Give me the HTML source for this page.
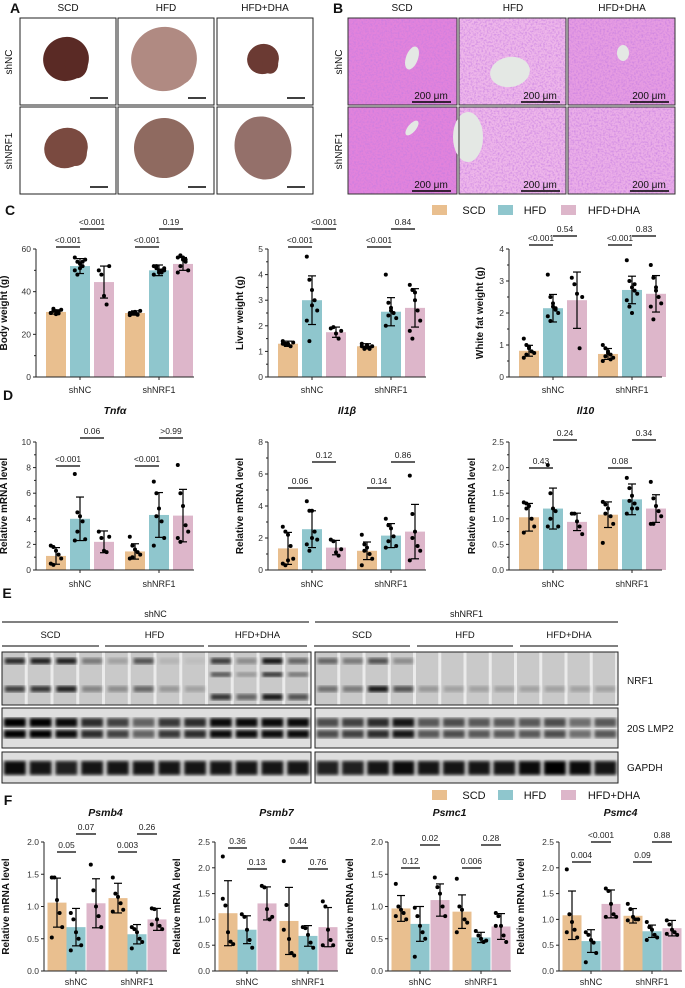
<!DOCTYPE html>
<html><head><meta charset="utf-8"><style>
html,body{margin:0;padding:0;background:#fff;}
svg{display:block;font-family:"Liberation Sans",Arial,sans-serif;}
</style></head><body>
<svg id="fig" width="685" height="988" viewBox="0 0 685 988" xmlns="http://www.w3.org/2000/svg">
<defs>
<filter id="he" x="0" y="0" width="1" height="1"><feTurbulence type="fractalNoise" baseFrequency="0.55" numOctaves="2" seed="3"/><feColorMatrix type="matrix" values="0 0 0 0 0.55  0 0 0 0 0.2  0 0 0 0 0.75  0 0 0 -2.2 1.3"/></filter>
<filter id="bl"><feGaussianBlur stdDeviation="1.6"/></filter>
</defs>
</svg>
<script>
// ---------- DATA ----------
const groups = ["shNC","shNRF1"];
const diets = ["SCD","HFD","HFD+DHA"];
const bwMean=[30.5,52,44.5,30,50,53], bwSd=[1,3.5,7.5,1,2.5,3];
const bwPts=[[30,31,29.5,30.5,31.5,30,32,30.8,29.8],[56,54,53,52,55,50,48,51,54],[50,48,38,34,52],[29,30,30.5,29.5,31,30,29.8,30.2,29.2],[52,51,50,49,50,48,52,49,50,51],[56,57,55,54,50,49,52,56,55]];
const bwP=["<0.001","<0.001","<0.001","0.19"];
const lwMean=[1.3,3.0,1.75,1.2,2.55,2.7], lwSd=[0.1,0.95,0.2,0.1,0.55,0.75];
const lwPts=[[1.4,1.3,1.25,1.2,1.35,1.3,1.25,1.3],[4.7,3.8,3.4,3.0,2.6,2.2,1.4,2.8],[1.9,1.95,1.7,1.5,1.8],[1.2,1.15,1.25,1.1,1.2,1.3,1.1,1.2,1.15],[4.0,2.9,2.7,2.5,2.3,2.0,2.4,2.6],[3.6,3.4,3.0,2.6,2.2,1.8,1.5,3.3]];
const lwP=["<0.001","<0.001","<0.001","0.84"];
const wfMean=[0.82,2.15,2.4,0.72,2.72,2.6], wfSd=[0.17,0.43,0.88,0.17,0.43,0.57];
const wfPts=[[1.2,1.0,0.95,0.8,0.75,0.6,0.7,0.9],[3.2,2.5,2.3,2.1,2.0,1.9,1.75,2.2,2.15],[3.1,2.9,2.6,0.9,2.5],[1.0,0.9,0.8,0.7,0.6,0.5,0.65,0.75,0.55],[3.65,3.0,2.8,2.7,2.6,2.4,2.2,2.0,2.9],[3.5,3.1,2.8,2.5,2.3,2.2,1.8,2.7]];
const wfP=["<0.001","0.54","<0.001","0.83"];
const tnMean=[1.1,4.0,2.2,1.45,4.3,4.25], tnSd=[0.65,1.7,0.85,0.6,1.75,2.05];
const tnPts=[[1.9,1.8,1.5,1.2,0.9,0.5,0.4],[7.5,4.5,4.2,3.8,2.4,2.3,3.0],[3.0,2.5,1.5,1.4,2.6],[2.6,1.9,1.6,1.4,1.2,0.9,1.0],[6.9,6.0,4.8,3.8,2.5,1.9,4.2],[8.2,6.0,5.0,3.5,3.0,2.5,2.2]];
const tnP=["<0.001","0.06","<0.001",">0.99"];
const ilMean=[1.35,2.55,1.4,1.2,2.15,2.4], ilSd=[1.0,1.15,0.45,0.55,0.75,1.7];
const ilPts=[[2.7,2.4,2.2,1.5,0.7,0.4,0.3,0.6],[4.3,3.7,3.7,2.4,1.9,1.6,1.2,2.0],[1.9,1.8,1.1,0.9,1.3],[2.2,1.6,1.4,1.0,0.7,0.3,1.2],[3.2,2.8,2.6,2.1,1.5,1.4,1.8],[5.9,3.5,2.4,1.5,1.2,0.6,2.0]];
const ilP=["0.06","0.12","0.14","0.86"];
const i10Mean=[1.03,1.2,0.94,1.08,1.38,1.2], i10Sd=[0.27,0.4,0.17,0.25,0.3,0.27];
const i10Pts=[[1.32,1.3,1.25,1.0,0.85,0.73,1.2],[2.05,1.5,1.2,1.15,0.85,0.85,1.0],[1.1,1.1,0.95,0.85,0.7],[1.33,1.28,1.2,1.05,0.9,0.53,1.1],[1.8,1.6,1.45,1.3,1.2,1.1,1.35,1.2],[1.72,1.4,1.25,1.15,1.05,0.9,0.9]];
const i10P=["0.43","0.24","0.08","0.34"];
const b4Mean=[1.06,0.68,1.05,1.13,0.57,0.80], b4Sd=[0.38,0.29,0.38,0.23,0.15,0.17];
const b4Pts=[[1.45,1.45,1.1,0.9,0.68,0.52],[0.9,0.8,0.6,0.5,0.4,0.32],[1.65,1.25,1.0,0.85,0.68],[1.45,1.2,1.15,1.05,0.95,0.92],[0.68,0.65,0.6,0.5,0.45,0.35],[0.97,0.96,0.8,0.7,0.65,0.72]];
const b4P=["0.05","0.07","0.003","0.26"];
const b7Mean=[1.12,0.80,1.31,0.97,0.68,0.85], b7Sd=[0.63,0.27,0.32,0.65,0.2,0.38];
const b7Pts=[[2.22,1.27,0.75,0.57,0.52,1.4],[1.1,1.05,0.8,0.6,0.45],[1.65,1.62,1.2,1.0,1.05],[2.13,1.28,0.62,0.35,0.3,0.8],[0.85,0.83,0.7,0.55,0.45],[1.35,1.25,0.8,0.6,0.5,0.5]];
const b7P=["0.36","0.13","0.44","0.76"];
const c1Mean=[0.97,0.73,1.10,0.92,0.52,0.69], c1Sd=[0.2,0.27,0.25,0.26,0.08,0.2];
const c1Pts=[[1.35,1.0,0.95,0.9,0.8,0.85],[0.98,0.85,0.7,0.6,0.5,0.22],[1.45,1.3,1.2,1.0,0.85],[1.43,1.0,0.95,0.8,0.75,0.6],[0.62,0.55,0.5,0.45,0.47],[0.9,0.85,0.7,0.55,0.45,0.7]];
const c1P=["0.12","0.02","0.006","0.28"];
const c4Mean=[1.08,0.58,1.30,1.07,0.77,0.83], c4Sd=[0.47,0.22,0.27,0.14,0.12,0.15];
const c4Pts=[[1.97,1.1,0.95,0.8,0.65,0.75],[0.75,0.7,0.6,0.55,0.35,0.17],[1.6,1.55,1.3,1.1,1.05,1.05],[1.3,1.2,1.05,1.0,1.0,0.98],[0.95,0.85,0.8,0.7,0.65,0.6],[0.98,0.9,0.8,0.75,0.7,0.72]];
const c4P=["0.004","<0.001","0.09","0.88"];

// ---------- helpers ----------
const NS="http://www.w3.org/2000/svg";
const svg=document.getElementById('fig');
const COLORS=["#e9bf8f","#8fc6cd","#ddb6ca"];
function mk(tag,attrs,parent){const e=document.createElementNS(NS,tag);for(const k in attrs)e.setAttribute(k,attrs[k]);(parent||svg).appendChild(e);return e;}
function txt(s,x,y,size,opts,parent){const e=mk('text',Object.assign({x:x,y:y,'font-size':size,'text-anchor':'middle',fill:'#111'},opts||{}),parent);e.textContent=s;return e;}

// panel letters
[["A",15,13],["B",338,13],["C",10,215],["D",8,400],["E",7,598],["F",8,805]].forEach(l=>{
 const t=txt(l[0],l[1],l[2],14,{'font-weight':'bold'});
 
 
});

// ---------- Panel A: liver photos ----------
const aX=[20,118,217], aY=[18,107];
const livCol=[["#5a2a25","#b08a82","#6b3a33"],["#7a4a40","#8f6a60","#94706a"]];
const livRx=[[23,33,16],[22,30,28]], livRy=[[22,32,15],[20,30,32]];
diets.forEach((d,i)=>{const t=txt(d,aX[i]+48,11,10);});
groups.forEach((g,r)=>{const t=txt(g,0,0,10,{transform:`translate(12,${aY[r]+44}) rotate(-90)`});});
for(let r=0;r<2;r++)for(let c=0;c<3;c++){
 const g=mk('g',{});
 mk('rect',{x:aX[c],y:aY[r],width:96,height:87,fill:'#fff',stroke:'#222','stroke-width':1},g);
 const cx=aX[c]+46, cy=aY[r]+41;
 mk('ellipse',{cx:cx,cy:cy,rx:livRx[r][c],ry:livRy[r][c],fill:livCol[r][c],transform:`rotate(-20 ${cx} ${cy})`},g);
 mk('ellipse',{cx:cx+livRx[r][c]*0.45,cy:cy+5,rx:livRx[r][c]*0.5,ry:livRy[r][c]*0.65,fill:livCol[r][c]},g);
 mk('line',{x1:aX[c]+70,x2:aX[c]+88,y1:aY[r]+80,y2:aY[r]+80,stroke:'#000','stroke-width':1.5},g);
}
// ---------- Panel B: histology ----------
const bX=[348,459,568], bW=[109,107,107];
diets.forEach((d,i)=>{const t=txt(d,bX[i]+54,11,10);});
groups.forEach((g,r)=>{const t=txt(g,0,0,10,{transform:`translate(342,${aY[r]+44}) rotate(-90)`});});
const heBase=[["#e283dc","#eeb6ea","#e69ce2"],["#e283dc","#eeb6ea","#ebaee8"]];
const vessel=[[[64,40,6,12,20],[51,54,20,15,-10],[55,35,6,8,0]],[[64,21,4,9,40],[9,30,15,25,0],[0,0,0,0,0]]];
for(let r=0;r<2;r++)for(let c=0;c<3;c++){
 const g=mk('g',{});
 mk('rect',{x:bX[c],y:aY[r],width:bW[c],height:87,fill:heBase[r][c]},g);
 mk('rect',{x:bX[c],y:aY[r],width:bW[c],height:87,filter:'url(#he)',opacity:0.75},g);
 const v=vessel[r][c]; if(v[2]>0){const vx=bX[c]+v[0],vy=aY[r]+v[1];mk('ellipse',{cx:vx,cy:vy,rx:v[2],ry:v[3],fill:'#e4e8e4',transform:`rotate(${v[4]} ${vx} ${vy})`},g);}
 mk('rect',{x:bX[c],y:aY[r],width:bW[c],height:87,fill:'none',stroke:'#333','stroke-width':1},g);
 txt("200 μm",bX[c]+bW[c]-26,aY[r]+81,10,{},g);
 mk('line',{x1:bX[c]+bW[c]-45,x2:bX[c]+bW[c]-6,y1:aY[r]+84,y2:aY[r]+84,stroke:'#000','stroke-width':1.5},g);
}

// ---------- legends ----------
function legend(y,name){
 const g=mk('g',{});
 const sx=[432,498,561], tx=[474,535,614];
 diets.forEach((d,i)=>{
  const it=mk('g',{},g);
  mk('rect',{x:sx[i],y:y-5,width:15,height:10,fill:COLORS[i]},it);
  txt(d,tx[i],y+4,11,{},it);
 });
}
legend(210,'legend-c');legend(795,'legend-f');

// ---------- bar chart ----------
function chart(o){
 const g=mk('g',{});
 const ys=v=>o.bottom-v/o.ymax*(o.bottom-o.top);
 const xs=i=>o.x0+o.offs[i];
 if(o.title){const t=txt(o.title,o.x0+o.len/2,o.titleY,10.5,{'font-weight':'bold','font-style':'italic'},g);}
 for(let i=0;i<6;i++){
  const b=mk('rect',{x:xs(i)-o.bw/2,y:ys(o.means[i]),width:o.bw,height:o.bottom-ys(o.means[i]),fill:COLORS[i%3]},g);
  
  
 }
 for(let i=0;i<6;i++){
  const pts=o.pts[i];
  pts.forEach((v,k)=>{
   const j=((k%5)-2)*2.6;
   const d=mk('circle',{cx:xs(i)+j,cy:ys(v),r:2,fill:'#000'},g);
   
   
  });
  const e=mk('g',{},g);
  const lo=ys(Math.max(0,o.means[i]-o.sds[i])),hi=ys(o.means[i]+o.sds[i]);
  mk('line',{x1:xs(i),x2:xs(i),y1:lo,y2:hi,stroke:'#000','stroke-width':1.2},e);
  mk('line',{x1:xs(i)-4,x2:xs(i)+4,y1:lo,y2:lo,stroke:'#000','stroke-width':1.2},e);
  mk('line',{x1:xs(i)-4,x2:xs(i)+4,y1:hi,y2:hi,stroke:'#000','stroke-width':1.2},e);
 }
 const ax=mk('g',{},g);
 mk('line',{x1:o.x0,x2:o.x0,y1:o.top,y2:o.bottom,stroke:'#222','stroke-width':1},ax);
 o.ticks.forEach(t=>{mk('line',{x1:o.x0-3,x2:o.x0,y1:ys(t),y2:ys(t),stroke:'#222'},ax);txt(o.fmt(t),o.x0-5,ys(t)+3,8.5,{'text-anchor':'end',fill:'#333'},ax);});
 if(o.minor) for(let k=0;k<o.ticks.length-1;k++){const m=(o.ticks[k]+o.ticks[k+1])/2;mk('line',{x1:o.x0-2,x2:o.x0,y1:ys(m),y2:ys(m),stroke:'#222'},ax);}
 const yl=txt(o.ylabel,0,0,10,{'font-weight':'bold',transform:`translate(${o.x0-o.ylOff},${(o.top+o.bottom)/2}) rotate(-90)`},g);
 
 const xa=mk('g',{},g);
 mk('line',{x1:o.x0,x2:o.x0+o.len,y1:o.bottom,y2:o.bottom,stroke:'#222'},xa);
 groups.forEach((gr,k)=>{const cx=xs(k*3+1);mk('line',{x1:cx,x2:cx,y1:o.bottom,y2:o.bottom+3,stroke:'#222'},xa);txt(gr,cx,o.glY,9,{fill:'#222'},xa);});
 o.pPos.forEach((p,k)=>{
  const pg=mk('g',{},g);
  mk('line',{x1:xs(p[0]),x2:xs(p[1]),y1:p[2],y2:p[2],stroke:'#000','stroke-width':1.3},pg);
  txt(o.pv[k],(xs(p[0])+xs(p[1]))/2,p[2]-4,8.5,{fill:'#222'},pg);
 });
}
const offCD=[20,44,68,99,123,147], offF=[13,32,52,74,93,113];
const int=t=>String(t), dec=t=>t.toFixed(1);
const C={top:249,bottom:377,len:158,offs:offCD,bw:20,glY:393,minor:true,ylOff:29};
chart(Object.assign({},C,{name:'chart-body-weight',x0:36,ymax:60,ticks:[0,20,40,60],fmt:int,means:bwMean,sds:bwSd,pts:bwPts,pv:bwP,ylabel:'Body weight (g)',pPos:[[0,1,247],[1,2,229],[3,4,247],[4,5,229]]}));
chart(Object.assign({},C,{name:'chart-liver-weight',x0:268,ymax:5,ticks:[0,1,2,3,4,5],fmt:int,means:lwMean,sds:lwSd,pts:lwPts,pv:lwP,ylabel:'Liver weight (g)',ylOff:25,pPos:[[0,1,247],[1,2,229],[3,4,247],[4,5,229]]}));
chart(Object.assign({},C,{name:'chart-white-fat-weight',x0:509,ymax:4,ticks:[0,1,2,3,4],fmt:int,means:wfMean,sds:wfSd,pts:wfPts,pv:wfP,ylabel:'White fat weight (g)',ylOff:26,len:153,pPos:[[0,1,245],[1,2,236],[3,4,245],[4,5,236]]}));
const D={top:442,bottom:570,len:158,offs:offCD,bw:20,glY:587,minor:true,ylOff:29,titleY:414,ylabel:'Relative mRNA level'};
chart(Object.assign({},D,{name:'chart-tnfa',title:'Tnfα',x0:36,ymax:10,ticks:[0,2,4,6,8,10],fmt:int,means:tnMean,sds:tnSd,pts:tnPts,pv:tnP,pPos:[[0,1,466],[1,2,438],[3,4,466],[4,5,438]]}));
chart(Object.assign({},D,{name:'chart-il1b',title:'Il1β',x0:268,ymax:8,ticks:[0,2,4,6,8],fmt:int,means:ilMean,sds:ilSd,pts:ilPts,pv:ilP,ylOff:25,pPos:[[0,1,488],[1,2,462],[3,4,488],[4,5,462]]}));
chart(Object.assign({},D,{name:'chart-il10',title:'Il10',x0:509,ymax:2.5,ticks:[0,0.5,1,1.5,2,2.5],fmt:dec,means:i10Mean,sds:i10Sd,pts:i10Pts,pv:i10P,ylOff:34,len:153,pPos:[[0,1,468],[1,2,440],[3,4,468],[4,5,440]]}));
const F={top:842,bottom:971,len:123,offs:offF,bw:19,glY:985,minor:false,ylOff:35,titleY:816,ylabel:'Relative mRNA level'};
chart(Object.assign({},F,{name:'chart-psmb4',title:'Psmb4',x0:44,ymax:2,ticks:[0,0.5,1,1.5,2],fmt:dec,means:b4Mean,sds:b4Sd,pts:b4Pts,pv:b4P,pPos:[[0,1,852],[1,2,834],[3,4,852],[4,5,834]]}));
chart(Object.assign({},F,{name:'chart-psmb7',title:'Psmb7',x0:215,ymax:2.5,ticks:[0,0.5,1,1.5,2,2.5],fmt:dec,means:b7Mean,sds:b7Sd,pts:b7Pts,pv:b7P,pPos:[[0,1,848],[1,2,869],[3,4,848],[4,5,869]]}));
chart(Object.assign({},F,{name:'chart-psmc1',title:'Psmc1',x0:388,ymax:2,ticks:[0,0.5,1,1.5,2],fmt:dec,means:c1Mean,sds:c1Sd,pts:c1Pts,pv:c1P,pPos:[[0,1,868],[1,2,845],[3,4,868],[4,5,845]]}));
chart(Object.assign({},F,{name:'chart-psmc4',title:'Psmc4',x0:559,ymax:2.5,ticks:[0,0.5,1,1.5,2,2.5],fmt:dec,means:c4Mean,sds:c4Sd,pts:c4Pts,pv:c4P,pPos:[[0,1,862],[1,2,842],[3,4,862],[4,5,842]]}));

// ---------- Panel E: western blot ----------
const eg=mk('g',{});
const sides=[[2,307],[315,303]];
const subX=[[2,99],[105,204],[208,307],[314,410],[417,513],[520,618]];
groups.forEach((gr,s)=>{
 const x=sides[s][0],w=sides[s][1];
 const t=txt(gr,x+w/2,617,9,{},eg);
 mk('line',{x1:x,x2:x+w,y1:622,y2:622,stroke:'#000'},eg);
});
subX.forEach((p,i)=>{
 const t=txt(diets[i%3],(p[0]+p[1])/2,638,9.5,{},eg);
 mk('line',{x1:p[0],x2:p[1],y1:646,y2:646,stroke:'#000'},eg);
});
const nrfTop=[.8,.85,.85,.4,.2,.6,.1,.05,.7,.3,.9,.5, .5,.4,.6,.3,0,0,0,0,0,0,0,0];
const nrfLow=[.7,.75,.85,.35,.3,.5,.25,.2,.75,.5,.9,.6, .45,.4,.9,.6,.25,.2,.2,.2,.2,.2,.2,.2];
const lmp=[1,1,.95,.8,.7,.55,.75,.8,.95,.95,.95,.95, .65,.7,.8,.9,.6,.65,.6,.6,.6,.65,.5,.6];
const gap=[.95,.9,.85,.9,.9,.9,.9,.9,.9,.9,.9,.9, .85,.85,.9,.95,.9,.9,.9,.9,.95,1,.95,.9];
const boxes=[[652,53,'nrf1'],[708,40,'lmp2'],[752,31,'gapdh']];
for(let s=0;s<2;s++){
 const x=sides[s][0],w=sides[s][1]+(s?0:2);
 boxes.forEach((b,bi)=>{
  const bg=mk('g',{},eg);
  mk('rect',{x:x,y:b[0],width:w,height:b[1],fill:bi==0?'#c9c9c9':'#dedede'},bg);
  for(let l=0;l<12;l++){
   const idx=s*12+l, lw=w/12, cx=x+lw*(l+0.5);
   if(bi==0){
    mk('rect',{x:cx-lw/2+lw-3,y:b[0],width:3,height:b[1],fill:'#f4f4f4',opacity:0.8},bg);
    const lowY=(s==0&&l>=8)?b[0]+42:b[0]+34;
    mk('rect',{x:cx-10,y:b[0]+6,width:20,height:6,fill:'#000',opacity:nrfTop[idx],filter:'url(#bl)'},bg);
    if(s==0&&l>=8) mk('rect',{x:cx-10,y:b[0]+20,width:20,height:5,fill:'#000',opacity:nrfTop[idx]*0.8,filter:'url(#bl)'},bg);
    mk('rect',{x:cx-10,y:lowY,width:20,height:6,fill:'#000',opacity:nrfLow[idx],filter:'url(#bl)'},bg);
   } else if(bi==1){
    mk('rect',{x:cx-11,y:b[0]+10,width:22,height:9,fill:'#000',opacity:lmp[idx],filter:'url(#bl)'},bg);
    mk('rect',{x:cx-11,y:b[0]+22,width:22,height:8,fill:'#000',opacity:lmp[idx],filter:'url(#bl)'},bg);
   } else {
    mk('rect',{x:cx-11,y:b[0]+9,width:22,height:14,fill:'#000',opacity:gap[idx],filter:'url(#bl)'},bg);
   }
  }
  mk('rect',{x:x,y:b[0],width:w,height:b[1],fill:'none',stroke:'#222','stroke-width':1},bg);
 });
}
[["NRF1",680],["20S LMP2",728],["GAPDH",767]].forEach(l=>{
 const t=txt(l[0],627,l[1]+4,10,{'text-anchor':'start'},eg);
 
 
});
</script>
</body></html>
